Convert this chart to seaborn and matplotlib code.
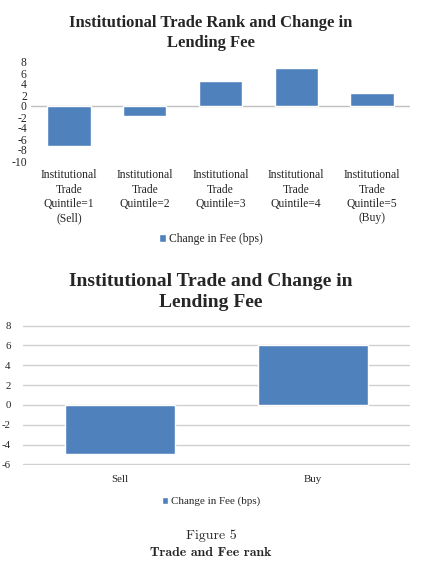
import matplotlib
matplotlib.use("Agg")
import matplotlib.pyplot as plt
import pandas as pd
import seaborn as sns

quintile_labels = ["Institutional\nTrade\nQuintile=1\n(Sell)", "Institutional\nTrade\nQuintile=2",
                   "Institutional\nTrade\nQuintile=3", "Institutional\nTrade\nQuintile=4",
                   "Institutional\nTrade\nQuintile=5\n(Buy)"]
quintile_fee = [-7.3, -1.9, 4.5, 7.0, 2.4]

side_labels = ["Sell", "Buy"]
side_fee = [-5.0, 6.0]

series_name = "Change in Fee (bps)"
bar_color = "#4F81BD"

sns.set_style("white")
plt.rcParams['font.family'] = ['Liberation Serif', 'DejaVu Serif']
plt.rcParams['axes.unicode_minus'] = False

fig = plt.figure(figsize=(4.22, 5.61), dpi=100)
W, H = 422, 561


def px_axes(x0, y0, x1, y1):
    return fig.add_axes([x0 / W, 1 - y1 / H, (x1 - x0) / W, (y1 - y0) / H])


# top chart
df1 = pd.DataFrame({"q": quintile_labels, "fee": quintile_fee, "s": series_name})
ax1 = px_axes(31, 62, 410, 161)
sns.barplot(data=df1, x="q", y="fee", hue="s", palette=[bar_color], saturation=1,
            width=0.57, ax=ax1, zorder=3)
ax1.set_ylim(-10, 8)
ax1.set_yticks(range(-10, 9, 2))
ax1.axhline(0, color="#BFBFBF", lw=1, zorder=2)
for s in ax1.spines.values():
    s.set_visible(False)
ax1.set_xlabel("")
ax1.set_ylabel("")
ax1.tick_params(axis="y", labelsize=8.4, pad=3, length=0)
ax1.tick_params(axis="x", labelsize=8.4, pad=6, length=0)
for t in ax1.get_xticklabels():
    t.set_linespacing(1.25)
# titles and legends sit on the figure centre, not the axes centre
ax1.set_title("Institutional Trade Rank and Change in\nLending Fee", fontsize=12,
              fontweight="bold", pad=11, linespacing=1.3, x=0.475)
sns.move_legend(ax1, "center", bbox_to_anchor=(0.475, -0.79), frameon=False, title=None,
                fontsize=8.4, handlelength=0.6, handleheight=0.6, handletextpad=0.3)

# bottom chart
df2 = pd.DataFrame({"side": side_labels, "fee": side_fee, "s": series_name})
ax2 = px_axes(23, 325, 410, 465)
sns.barplot(data=df2, x="side", y="fee", hue="s", palette=[bar_color], saturation=1,
            width=0.57, ax=ax2, zorder=3)
ax2.set_ylim(-6.06, 8.06)
ax2.set_yticks(range(-6, 9, 2))
ax2.grid(axis="y", color="#D0D0D0", lw=1, zorder=0)
ax2.grid(axis="x", visible=False)
for s in ax2.spines.values():
    s.set_visible(False)
ax2.set_xlabel("")
ax2.set_ylabel("")
ax2.tick_params(axis="y", labelsize=7.8, pad=9, length=0)
ax2.tick_params(axis="x", labelsize=7.8, pad=7, length=0)
ax2.set_title("Institutional Trade and Change in\nLending Fee", fontsize=14,
              fontweight="bold", pad=13, linespacing=1.3, x=0.486)
sns.move_legend(ax2, "center", bbox_to_anchor=(0.486, -0.26), frameon=False, title=None,
                fontsize=7.9, handlelength=0.6, handleheight=0.6, handletextpad=0.3)

fig.text(0.5, 1 - 536 / H, "Figure 5", ha="center", va="center", fontsize=10, family="cmr10")
fig.text(0.5, 1 - 553 / H, "Trade and Fee rank", ha="center", va="center", fontsize=10,
         family="cmb10")

fig.savefig("out.png", dpi=100)
